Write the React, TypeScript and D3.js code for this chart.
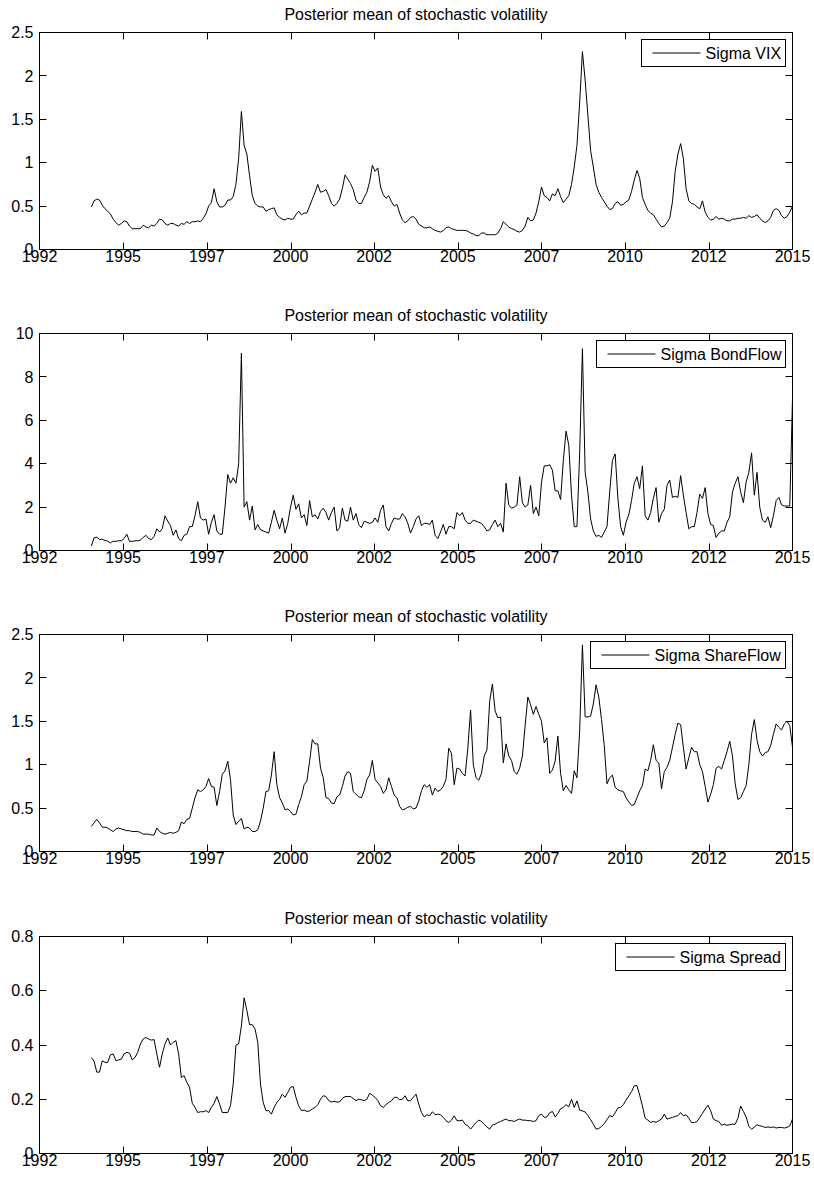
import React, { useEffect, useRef } from "react";
import * as d3 from "d3";

// Monthly observations, first one at 1993 + 7/12 (x axis in decimal years)
const START_YEAR = 1993 + 7 / 12;
const xDomain = [1992, 2015];
const xTickLabels = ["1992", "1995", "1997", "2000", "2002", "2005", "2007", "2010", "2012", "2015"];

const titleText = "Posterior mean of stochastic volatility";

const vix = [
  0.49, 0.56, 0.58, 0.57, 0.51, 0.47, 0.44, 0.41, 0.35, 0.31,
  0.28, 0.30, 0.33, 0.32, 0.27, 0.24, 0.24, 0.24, 0.24, 0.28,
  0.26, 0.25, 0.28, 0.27, 0.30, 0.35, 0.34, 0.30, 0.28, 0.30,
  0.30, 0.28, 0.27, 0.30, 0.29, 0.32, 0.30, 0.32, 0.32, 0.33,
  0.32, 0.36, 0.41, 0.50, 0.54, 0.70, 0.55, 0.49, 0.49, 0.51,
  0.57, 0.57, 0.61, 0.75, 1.05, 1.59, 1.20, 1.10, 0.85, 0.62,
  0.53, 0.50, 0.49, 0.49, 0.44, 0.46, 0.47, 0.48, 0.40, 0.37,
  0.35, 0.34, 0.36, 0.35, 0.35, 0.40, 0.44, 0.40, 0.42, 0.42,
  0.50, 0.58, 0.66, 0.75, 0.66, 0.67, 0.69, 0.62, 0.53, 0.50,
  0.53, 0.58, 0.70, 0.86, 0.81, 0.76, 0.69, 0.57, 0.53, 0.53,
  0.60, 0.66, 0.78, 0.97, 0.90, 0.94, 0.72, 0.63, 0.59, 0.62,
  0.55, 0.50, 0.52, 0.42, 0.34, 0.31, 0.33, 0.37, 0.38, 0.35,
  0.29, 0.27, 0.25, 0.25, 0.26, 0.24, 0.22, 0.21, 0.20, 0.22,
  0.25, 0.26, 0.24, 0.23, 0.22, 0.22, 0.22, 0.22, 0.21, 0.19,
  0.18, 0.16, 0.16, 0.19, 0.19, 0.17, 0.17, 0.17, 0.17, 0.19,
  0.24, 0.32, 0.29, 0.26, 0.24, 0.23, 0.21, 0.20, 0.22, 0.27,
  0.37, 0.33, 0.34, 0.42, 0.55, 0.72, 0.62, 0.60, 0.56, 0.64,
  0.62, 0.70, 0.61, 0.54, 0.58, 0.62, 0.75, 0.95, 1.20, 1.70,
  2.28, 1.95, 1.55, 1.14, 0.95, 0.75, 0.66, 0.60, 0.55, 0.50,
  0.46, 0.47, 0.53, 0.55, 0.51, 0.52, 0.55, 0.57, 0.67, 0.80,
  0.91, 0.82, 0.60, 0.52, 0.45, 0.42, 0.40, 0.35, 0.30, 0.26,
  0.27, 0.31, 0.36, 0.55, 0.90, 1.10, 1.22, 1.05, 0.70, 0.56,
  0.53, 0.52, 0.49, 0.47, 0.56, 0.43, 0.37, 0.34, 0.35, 0.38,
  0.35, 0.36, 0.35, 0.33, 0.33, 0.35, 0.35, 0.36, 0.36, 0.37,
  0.36, 0.39, 0.37, 0.38, 0.40, 0.36, 0.33, 0.31, 0.33, 0.37,
  0.45, 0.47, 0.45, 0.39, 0.36, 0.38, 0.43, 0.50,
];

const bondFlow = [
  0.20, 0.58, 0.62, 0.50, 0.52, 0.46, 0.43, 0.35, 0.43, 0.42,
  0.45, 0.45, 0.55, 0.75, 0.42, 0.42, 0.45, 0.45, 0.48, 0.60,
  0.70, 0.55, 0.50, 0.65, 1.00, 0.85, 1.00, 1.60, 1.35, 1.15,
  0.70, 0.95, 0.55, 0.45, 0.70, 0.75, 1.10, 1.10, 1.60, 2.25,
  1.50, 1.40, 1.45, 0.75, 1.30, 1.65, 0.90, 0.75, 0.75, 2.00,
  3.50, 3.10, 3.35, 3.10, 4.00, 9.10, 2.00, 2.25, 1.40, 2.05,
  0.95, 1.20, 0.95, 0.90, 0.85, 0.80, 1.30, 1.85, 1.40, 1.00,
  1.50, 0.80, 1.25, 2.00, 2.55, 1.90, 2.15, 1.50, 1.65, 1.15,
  2.30, 1.55, 1.65, 1.45, 1.80, 1.95, 1.75, 1.40, 1.75, 2.00,
  0.90, 1.05, 1.95, 1.40, 1.35, 2.00, 1.40, 1.70, 1.20, 1.05,
  1.35, 1.30, 1.25, 1.30, 1.50, 1.30, 1.85, 2.10, 1.10, 0.90,
  1.25, 1.50, 1.45, 1.45, 1.70, 1.55, 1.25, 0.80, 1.10, 1.45,
  1.60, 1.15, 1.25, 1.25, 1.20, 1.40, 0.70, 0.55, 0.85, 1.20,
  0.75, 1.10, 1.10, 1.00, 1.75, 1.60, 1.75, 1.40, 1.25, 1.25,
  1.40, 1.35, 1.30, 1.25, 1.10, 0.90, 0.95, 1.20, 1.40, 1.10,
  1.25, 0.85, 3.10, 2.10, 1.95, 2.00, 2.10, 3.40, 2.20, 2.00,
  2.10, 3.00, 1.70, 2.00, 1.60, 3.15, 3.90, 3.90, 3.95, 3.70,
  2.75, 2.75, 2.35, 4.15, 5.50, 4.85, 2.55, 1.10, 1.10, 4.55,
  9.30, 3.60, 2.70, 1.45, 0.90, 0.65, 0.70, 0.60, 0.85, 1.10,
  2.70, 4.15, 4.45, 2.40, 1.10, 0.70, 1.30, 1.65, 2.30, 3.10,
  3.40, 2.85, 3.90, 1.60, 1.40, 1.75, 2.40, 2.90, 1.30, 1.70,
  1.90, 3.00, 3.25, 2.45, 2.50, 2.45, 3.45, 2.55, 1.75, 1.00,
  1.10, 1.10, 1.75, 2.60, 2.40, 2.90, 1.70, 1.20, 1.15, 0.60,
  0.80, 0.90, 0.90, 1.30, 1.55, 2.70, 3.10, 3.40, 2.70, 2.20,
  3.15, 3.60, 4.50, 2.55, 3.60, 2.00, 1.40, 1.30, 1.55, 1.05,
  1.60, 2.30, 2.45, 2.10, 2.05, 2.05, 2.05, 7.00,
];

const shareFlow = [
  0.29, 0.33, 0.37, 0.33, 0.28, 0.28, 0.27, 0.25, 0.23, 0.26,
  0.27, 0.26, 0.25, 0.24, 0.24, 0.23, 0.23, 0.23, 0.22, 0.20,
  0.20, 0.20, 0.19, 0.19, 0.27, 0.23, 0.21, 0.20, 0.21, 0.22,
  0.21, 0.22, 0.24, 0.34, 0.32, 0.37, 0.38, 0.50, 0.62, 0.71,
  0.69, 0.71, 0.75, 0.84, 0.75, 0.74, 0.53, 0.69, 0.89, 0.93,
  1.04, 0.83, 0.42, 0.31, 0.35, 0.38, 0.26, 0.28, 0.27, 0.23,
  0.23, 0.25, 0.35, 0.50, 0.69, 0.70, 0.88, 1.15, 0.77, 0.62,
  0.56, 0.48, 0.49, 0.46, 0.42, 0.43, 0.54, 0.63, 0.77, 0.81,
  1.04, 1.29, 1.24, 1.24, 0.96, 0.85, 0.62, 0.61, 0.56, 0.55,
  0.63, 0.65, 0.75, 0.87, 0.92, 0.90, 0.69, 0.66, 0.63, 0.62,
  0.70, 0.83, 0.88, 1.05, 0.83, 0.79, 0.75, 0.67, 0.71, 0.85,
  0.75, 0.65, 0.62, 0.52, 0.48, 0.49, 0.51, 0.52, 0.49, 0.50,
  0.58, 0.70, 0.77, 0.74, 0.77, 0.65, 0.73, 0.69, 0.71, 0.75,
  0.83, 1.19, 1.13, 0.77, 0.96, 0.95, 0.90, 0.87, 1.19, 1.63,
  1.00, 0.85, 0.82, 0.90, 1.10, 1.17, 1.73, 1.93, 1.62, 1.54,
  1.55, 1.02, 1.24, 1.10, 1.05, 0.92, 0.89, 0.96, 1.10, 1.45,
  1.78, 1.69, 1.58, 1.67, 1.58, 1.50, 1.25, 1.31, 0.90, 0.94,
  1.04, 1.33, 0.90, 0.70, 0.76, 0.71, 0.67, 0.93, 0.85, 1.40,
  2.38, 1.55, 1.55, 1.56, 1.70, 1.92, 1.78, 1.52, 1.22, 0.78,
  0.85, 0.88, 0.74, 0.71, 0.70, 0.69, 0.62, 0.57, 0.53, 0.54,
  0.62, 0.70, 0.76, 0.95, 0.93, 1.05, 1.23, 1.05, 1.02, 0.72,
  0.92, 0.97, 1.05, 1.20, 1.35, 1.48, 1.46, 1.20, 0.95, 1.08,
  1.20, 1.15, 1.15, 1.00, 0.92, 0.75, 0.57, 0.66, 0.77, 0.96,
  0.98, 0.95, 1.05, 1.15, 1.27, 1.10, 0.78, 0.60, 0.62, 0.69,
  0.76, 1.00, 1.35, 1.52, 1.28, 1.15, 1.10, 1.14, 1.15, 1.22,
  1.35, 1.47, 1.43, 1.40, 1.47, 1.50, 1.45, 1.20,
];

const spread = [
  0.354, 0.340, 0.300, 0.300, 0.342, 0.336, 0.336, 0.364, 0.367, 0.342,
  0.345, 0.348, 0.367, 0.373, 0.370, 0.345, 0.354, 0.373, 0.404, 0.422,
  0.428, 0.422, 0.418, 0.420, 0.367, 0.318, 0.367, 0.404, 0.426, 0.400,
  0.410, 0.416, 0.367, 0.280, 0.287, 0.262, 0.244, 0.185, 0.170, 0.151,
  0.154, 0.154, 0.158, 0.151, 0.170, 0.185, 0.210, 0.182, 0.151, 0.151,
  0.151, 0.176, 0.256, 0.400, 0.404, 0.470, 0.574, 0.527, 0.475, 0.475,
  0.459, 0.410, 0.256, 0.188, 0.158, 0.158, 0.145, 0.170, 0.188, 0.200,
  0.219, 0.207, 0.225, 0.244, 0.247, 0.207, 0.176, 0.158, 0.160, 0.155,
  0.157, 0.164, 0.170, 0.180, 0.200, 0.213, 0.210, 0.195, 0.190, 0.192,
  0.190, 0.190, 0.203, 0.210, 0.210, 0.210, 0.203, 0.195, 0.200, 0.198,
  0.195, 0.200, 0.222, 0.215, 0.207, 0.195, 0.176, 0.170, 0.180, 0.188,
  0.194, 0.207, 0.207, 0.198, 0.200, 0.213, 0.194, 0.195, 0.207, 0.219,
  0.182, 0.151, 0.135, 0.143, 0.139, 0.154, 0.143, 0.145, 0.143, 0.133,
  0.121, 0.114, 0.123, 0.139, 0.121, 0.121, 0.123, 0.108, 0.102, 0.090,
  0.102, 0.114, 0.123, 0.118, 0.108, 0.098, 0.090, 0.105, 0.108, 0.114,
  0.118, 0.123, 0.127, 0.121, 0.121, 0.118, 0.123, 0.127, 0.123, 0.123,
  0.121, 0.121, 0.118, 0.121, 0.140, 0.145, 0.133, 0.135, 0.150, 0.155,
  0.135, 0.148, 0.165, 0.170, 0.180, 0.172, 0.200, 0.170, 0.194, 0.160,
  0.157, 0.153, 0.140, 0.125, 0.108, 0.090, 0.092, 0.100, 0.110, 0.125,
  0.140, 0.135, 0.150, 0.168, 0.170, 0.180, 0.197, 0.212, 0.228, 0.250,
  0.250, 0.215, 0.175, 0.130, 0.123, 0.115, 0.118, 0.115, 0.121, 0.127,
  0.145, 0.127, 0.130, 0.133, 0.137, 0.139, 0.151, 0.139, 0.143, 0.130,
  0.114, 0.114, 0.118, 0.133, 0.148, 0.164, 0.178, 0.158, 0.127, 0.121,
  0.118, 0.104, 0.108, 0.104, 0.106, 0.108, 0.108, 0.130, 0.175, 0.155,
  0.135, 0.100, 0.090, 0.097, 0.106, 0.102, 0.100, 0.096, 0.098, 0.096,
  0.098, 0.094, 0.096, 0.096, 0.094, 0.096, 0.102, 0.127,
];

const legendLabels = ["Sigma VIX", "Sigma BondFlow", "Sigma ShareFlow", "Sigma Spread"];
const yMaxes = [2.5, 10, 2.5, 0.8];
const yTickSets = [
  [0, 0.5, 1, 1.5, 2, 2.5],
  [0, 2, 4, 6, 8, 10],
  [0, 0.5, 1, 1.5, 2, 2.5],
  [0, 0.2, 0.4, 0.6, 0.8],
];
const seriesList = [vix, bondFlow, shareFlow, spread];

// layout
const W = 814;
const H = 1179;
const LEFT = 39.5;
const RIGHT = 792.5;
const TOP0 = 32;
const STEP = 301.2;
const PLOT_H = 217;
const TICK = 7;
const FONT = "'Liberation Sans', Arial, Helvetica, sans-serif";
const FS = 16;

export default function App() {
  const ref = useRef<SVGSVGElement>(null);

  useEffect(() => {
    const svg = d3.select(ref.current);
    svg.selectAll("*").remove();
    svg.append("rect").attr("x", 0).attr("y", 0).attr("width", W).attr("height", H).attr("fill", "#fff");
    const defs = svg.append("defs");

    const x = d3.scaleLinear().domain(xDomain).range([LEFT, RIGHT]);
    const nT = xTickLabels.length - 1;
    const xTickVals = xTickLabels.map((_, k) => xDomain[0] + (k * (xDomain[1] - xDomain[0])) / nT);

    seriesList.forEach((values, k) => {
      const top = Math.round(TOP0 + k * STEP) + 0.5;
      const bottom = top + PLOT_H;
      const y = d3.scaleLinear().domain([0, yMaxes[k]]).range([bottom, top]);
      const g = svg.append("g");

      const clipId = `plotclip${k}`;
      defs.append("clipPath").attr("id", clipId)
        .append("rect").attr("x", LEFT).attr("y", top).attr("width", RIGHT - LEFT).attr("height", PLOT_H);

      // title
      g.append("text")
        .attr("x", (LEFT + RIGHT) / 2).attr("y", top - 13)
        .attr("text-anchor", "middle")
        .attr("font-family", FONT).attr("font-size", FS).attr("fill", "#000")
        .text(titleText);

      // data line
      const line = d3.line<number>()
        .x((_, i) => x(START_YEAR + i / 12))
        .y((v) => y(v));
      g.append("path")
        .attr("d", line(values) || "")
        .attr("fill", "none").attr("stroke", "#000").attr("stroke-width", 1)
        .attr("stroke-linejoin", "round")
        .attr("clip-path", `url(#${clipId})`);

      // ticks (inward, on all four sides)
      const ticks = g.append("g").attr("stroke", "#000").attr("stroke-width", 1);
      xTickVals.forEach((tv) => {
        const px = Math.round(x(tv)) + 0.5;
        if (px <= LEFT + 1 || px >= RIGHT - 1) return;
        ticks.append("line").attr("x1", px).attr("x2", px).attr("y1", bottom).attr("y2", bottom - TICK);
        ticks.append("line").attr("x1", px).attr("x2", px).attr("y1", top).attr("y2", top + TICK);
      });
      yTickSets[k].forEach((tv) => {
        const py = Math.round(y(tv) - 0.5) + 0.5;
        if (py <= top + 1 || py >= bottom - 1) return;
        ticks.append("line").attr("x1", LEFT).attr("x2", LEFT + TICK).attr("y1", py).attr("y2", py);
        ticks.append("line").attr("x1", RIGHT).attr("x2", RIGHT - TICK).attr("y1", py).attr("y2", py);
      });

      // box
      g.append("rect")
        .attr("x", LEFT).attr("y", top).attr("width", RIGHT - LEFT).attr("height", PLOT_H)
        .attr("fill", "none").attr("stroke", "#000").attr("stroke-width", 1);

      // x tick labels
      xTickVals.forEach((tv, j) => {
        g.append("text")
          .attr("x", x(tv)).attr("y", bottom + 12.5)
          .attr("text-anchor", "middle")
          .attr("font-family", FONT).attr("font-size", FS).attr("fill", "#000")
          .text(xTickLabels[j]);
      });
      // y tick labels
      yTickSets[k].forEach((tv) => {
        g.append("text")
          .attr("x", LEFT - 6).attr("y", y(tv) + 5.7)
          .attr("text-anchor", "end")
          .attr("font-family", FONT).attr("font-size", FS).attr("fill", "#000")
          .text(String(tv));
      });

      // legend
      const lg = g.append("g");
      const boxRight = RIGHT - 7;
      const boxTop = top + 7;
      const rect = lg.append("rect")
        .attr("y", boxTop).attr("height", 27)
        .attr("fill", "#fff").attr("stroke", "#000").attr("stroke-width", 1);
      const txt = lg.append("text")
        .attr("y", boxTop + 19)
        .attr("font-family", FONT).attr("font-size", FS).attr("fill", "#000")
        .text(legendLabels[k]);
      const tw = (txt.node() as SVGTextElement).getComputedTextLength();
      const boxLeft = Math.round(boxRight - 5 - tw - 64) + 0.5;
      rect.attr("x", boxLeft).attr("width", boxRight - boxLeft);
      txt.attr("x", boxLeft + 64);
      lg.append("line")
        .attr("x1", boxLeft + 11).attr("x2", boxLeft + 59)
        .attr("y1", boxTop + 13.5).attr("y2", boxTop + 13.5)
        .attr("stroke", "#000").attr("stroke-width", 1);
    });
  }, []);

  return (
    <svg
      ref={ref}
      width={W}
      height={H}
      style={{ position: "absolute", left: 0, top: 0, display: "block" }}
    />
  );
}
